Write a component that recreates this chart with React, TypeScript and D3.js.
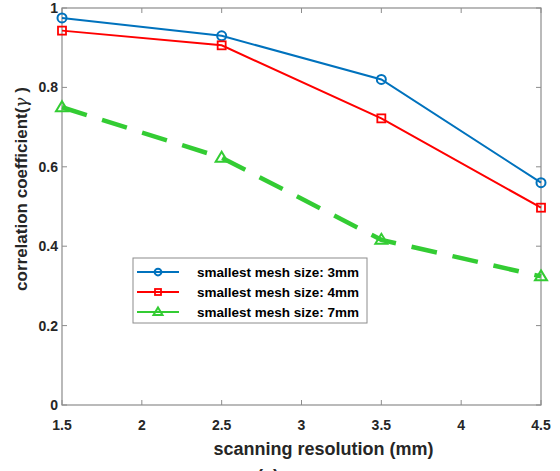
import React from "react";
import * as d3 from "d3";

const resolutions = [1.5, 2.5, 3.5, 4.5];
const mesh3mm = [0.975, 0.93, 0.82, 0.56];
const mesh4mm = [0.943, 0.906, 0.722, 0.497];
const mesh7mm = [0.75, 0.623, 0.416, 0.324];
const xTicks = [1.5, 2, 2.5, 3, 3.5, 4, 4.5];
const yTicks = [0, 0.2, 0.4, 0.6, 0.8, 1];
const seriesNames = ["smallest mesh size: 3mm", "smallest mesh size: 4mm", "smallest mesh size: 7mm"];

const W = 560, H = 471;
const L = 62, R = 541, T = 8, B = 405;
const FONT = "Liberation Sans, Arial, sans-serif";

function Marker({ kind, x, y, color, s = 1 }: { kind: string; x: number; y: number; color: string; s?: number }) {
  if (kind === "circle") return <circle cx={x} cy={y} r={4.5 * s} fill="none" stroke={color} strokeWidth={2} />;
  if (kind === "square") return <rect x={x - 4 * s} y={y - 4 * s} width={8 * s} height={8 * s} fill="none" stroke={color} strokeWidth={1.8} />;
  return <path d={`M${x},${y - 6 * s}L${x + 6 * s},${y + 4 * s}L${x - 6 * s},${y + 4 * s}Z`} fill="none" stroke={color} strokeWidth={2} />;
}

export default function App() {
  const x = d3.scaleLinear().domain([1.5, 4.5]).range([L, R]);
  const y = d3.scaleLinear().domain([0, 1]).range([B, T]);
  const line = d3.line<number>().x((_, i) => x(resolutions[i])).y((d) => y(d));
  const series = [
    { data: mesh3mm, color: "#0072BD", kind: "circle", width: 2, dash: undefined as string | undefined, name: seriesNames[0] },
    { data: mesh4mm, color: "#FF0000", kind: "square", width: 2, dash: undefined, name: seriesNames[1] },
    { data: mesh7mm, color: "#33CC33", kind: "triangle", width: 4.5, dash: "26 16", name: seriesNames[2] },
  ];
  const axisColor = "#8c8c8c";
  const legX = 133, legY = 258, legW = 234, legH = 65;
  return (
    <svg width={W} height={H} style={{ position: "absolute", left: 0, top: 0 }} fontFamily={FONT}>
      <rect x={0} y={0} width={W} height={H} fill="#fff" />
      <rect x={L} y={T} width={R - L} height={B - T} fill="none" stroke={axisColor} strokeWidth={1.2} />
      {xTicks.map((t) => (
        <g key={"x" + t}>
          <line x1={x(t)} x2={x(t)} y1={B} y2={B - 5} stroke={axisColor} />
          <line x1={x(t)} x2={x(t)} y1={T} y2={T + 5} stroke={axisColor} />
          <text x={x(t)} y={B + 25} textAnchor="middle" fontSize={14} fontWeight="bold" fill="#262626">{t}</text>
        </g>
      ))}
      {yTicks.map((t) => (
        <g key={"y" + t}>
          <line x1={L} x2={L + 5} y1={y(t)} y2={y(t)} stroke={axisColor} />
          <line x1={R} x2={R - 5} y1={y(t)} y2={y(t)} stroke={axisColor} />
          <text x={L - 4} y={y(t) + 5} textAnchor="end" fontSize={14} fontWeight="bold" fill="#262626">{t}</text>
        </g>
      ))}
      <text x={(L + R) / 2 + 22} y={455} textAnchor="middle" fontSize={18} fontWeight="bold" fill="#262626">scanning resolution (mm)</text>
      <text x={268} y={482} textAnchor="middle" fontSize={18} fontWeight="bold" fill="#262626">(a)</text>
      <text transform={`translate(27,189) rotate(-90)`} textAnchor="middle" fontSize={17} fontWeight="bold" fill="#262626">
        correlation coefficient(<tspan fontStyle="italic" fontWeight="normal" fontFamily="DejaVu Serif, serif">γ</tspan> )
      </text>
      {series.map((s) => (
        <g key={s.name}>
          <path d={line(s.data) || ""} fill="none" stroke={s.color} strokeWidth={s.width} strokeDasharray={s.dash} />
          {s.data.map((v, i) => (
            <Marker key={i} kind={s.kind} x={x(resolutions[i])} y={y(v)} color={s.color} />
          ))}
        </g>
      ))}
      <rect x={legX} y={legY} width={legW} height={legH} fill="#fff" stroke={axisColor} strokeWidth={1} />
      {series.map((s, i) => {
        const cy = legY + 14 + i * 20;
        return (
          <g key={"leg" + i}>
            <line x1={legX + 4} x2={legX + 46} y1={cy} y2={cy} stroke={s.color} strokeWidth={2} />
            <Marker kind={s.kind} x={legX + 25} y={cy} color={s.color} s={0.75} />
            <text x={legX + 64} y={cy + 5} fontSize={13.5} fontWeight="bold" fill="#000">{s.name}</text>
          </g>
        );
      })}
    </svg>
  );
}
